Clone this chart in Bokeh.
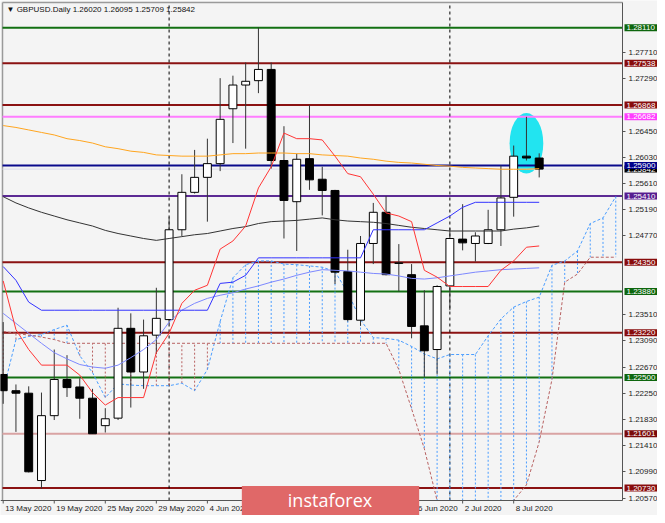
from bokeh.plotting import figure
from bokeh.models import Range1d, FixedTicker, NumeralTickFormatter, Label
from bokeh.embed import file_html
from bokeh.resources import INLINE

# ---------------- data ----------------
title_text = "\u25BC GBPUSD.Daily  1.26020 1.26095 1.25709 1.25842"

opens = [1.2255, 1.2229, 1.2225, 1.2085, 1.2189, 1.2247, 1.2235, 1.2217, 1.2173, 1.2185,
         1.2329, 1.2259, 1.2318, 1.2343, 1.2487, 1.2547, 1.2571, 1.2593, 1.2681, 1.2719,
         1.2726, 1.2744, 1.2598, 1.2532, 1.2601, 1.2568, 1.2550, 1.2420, 1.2342, 1.2465,
         1.2515, 1.2433, 1.2415, 1.2333, 1.2295, 1.2397, 1.2472, 1.2465, 1.2465, 1.2487,
         1.2539, 1.2605, 1.26020]
highs = [1.2339, 1.2239, 1.2236, 1.2226, 1.2295, 1.2286, 1.2249, 1.2232, 1.2201, 1.2362,
         1.2353, 1.2343, 1.2394, 1.2507, 1.2576, 1.2615, 1.2633, 1.2730, 1.2734, 1.2755,
         1.2811, 1.2755, 1.2653, 1.2609, 1.2687, 1.2588, 1.2551, 1.2455, 1.2477, 1.2530,
         1.2541, 1.2464, 1.2432, 1.2390, 1.2398, 1.2490, 1.2528, 1.2483, 1.2519, 1.2590,
         1.2622, 1.2668, 1.26095]
lows = [1.2208, 1.2163, 1.2098, 1.2072, 1.2182, 1.2219, 1.2184, 1.2160, 1.2162, 1.2182,
        1.2202, 1.2232, 1.2288, 1.2336, 1.2477, 1.2545, 1.2500, 1.2581, 1.2626, 1.2617,
        1.2706, 1.2585, 1.2473, 1.2453, 1.2551, 1.2510, 1.2400, 1.2340, 1.2333, 1.2432,
        1.2414, 1.2388, 1.2313, 1.2251, 1.2255, 1.2358, 1.2454, 1.2436, 1.2464, 1.2461,
        1.2508, 1.2598, 1.25709]
closes = [1.2229, 1.2225, 1.2099, 1.2189, 1.2247, 1.2234, 1.2217, 1.2160, 1.2184, 1.2329,
          1.2259, 1.2317, 1.2345, 1.2487, 1.2547, 1.2571, 1.2593, 1.2664, 1.2719, 1.2725,
          1.2744, 1.2598, 1.2534, 1.2600, 1.2567, 1.2550, 1.2419, 1.2343, 1.2465, 1.2515,
          1.2415, 1.2434, 1.2332, 1.2293, 1.2396, 1.2473, 1.2466, 1.2477, 1.2487, 1.2538,
          1.2605, 1.2602, 1.25842]

tenkan = [1.2405, 1.2327, 1.2295, 1.2270, 1.2270, 1.2270, 1.2254, 1.2226, 1.2206, 1.2218,
          1.2218, 1.2218, 1.2290, 1.2321, 1.2369, 1.2390, 1.2398, 1.2456, 1.2469, 1.2493,
          1.2554, 1.2588, 1.2642, 1.2633, 1.2633, 1.2631, 1.2605, 1.2577, 1.2572, 1.2544,
          1.2514, 1.2509, 1.2500, 1.2422, 1.2411, 1.2396, 1.2396, 1.2396, 1.2396, 1.2422,
          1.2437, 1.2459, 1.2461]
kijun = [1.2428, 1.2406, 1.2371, 1.2358, 1.2358, 1.2358, 1.2358, 1.2358, 1.2358, 1.2358,
         1.2358, 1.2358, 1.2358, 1.2358, 1.2358, 1.2358, 1.2358, 1.2401, 1.2403, 1.2414,
         1.2442, 1.2442, 1.2442, 1.2442, 1.2442, 1.2442, 1.2442, 1.2442, 1.2442, 1.2487,
         1.2487, 1.2487, 1.2487, 1.2487, 1.2498, 1.2509, 1.2523, 1.2531, 1.2531, 1.2531,
         1.2531, 1.2531, 1.2531]
ma_blue = [1.2353, 1.2337, 1.2321, 1.2305, 1.2290, 1.2280, 1.2271, 1.2267, 1.2265, 1.2270,
           1.2282, 1.2295, 1.2311, 1.2339, 1.2358, 1.2369, 1.2377, 1.2382, 1.2386, 1.2392,
           1.2397, 1.2403, 1.2408, 1.2414, 1.2419, 1.2423, 1.2422, 1.2421, 1.2419, 1.2417,
           1.2416, 1.2413, 1.2409, 1.2408, 1.2410, 1.2413, 1.2416, 1.2419, 1.2421, 1.2423,
           1.2424, 1.2425, 1.2426]
ma_black = [1.2540, 1.2530, 1.2522, 1.2515, 1.2509, 1.2503, 1.2498, 1.2493, 1.2486, 1.2481,
            1.2477, 1.2473, 1.2470, 1.2473, 1.2476, 1.2479, 1.2481, 1.2485, 1.2489, 1.2492,
            1.2497, 1.2500, 1.2501, 1.2502, 1.2504, 1.2506, 1.2503, 1.2501, 1.2500, 1.2499,
            1.2497, 1.2494, 1.2491, 1.2489, 1.2487, 1.2485, 1.2485, 1.2485, 1.2485, 1.2485,
            1.2488, 1.2490, 1.2493]
ma_orange = [1.2654, 1.2651, 1.2647, 1.2643, 1.2639, 1.2633, 1.2630, 1.2626, 1.2620, 1.2617,
             1.2613, 1.2611, 1.2607, 1.2606, 1.2605, 1.2605, 1.2605, 1.2607, 1.2609, 1.2609,
             1.2610, 1.2610, 1.2610, 1.2609, 1.2609, 1.2607, 1.2606, 1.2605, 1.2602, 1.2600,
             1.2597, 1.2595, 1.2594, 1.2592, 1.2590, 1.2589, 1.2587, 1.2586, 1.2585, 1.2584,
             1.2584, 1.2584, 1.2585]
span_a = [1.2229, 1.2311, 1.2316, 1.2319, 1.2327, 1.2334, 1.2285, 1.2258, 1.2218, 1.2240,
          1.2238, 1.2237, 1.2237, 1.2237, 1.2241, 1.2229, 1.2263, 1.2340, 1.2410, 1.2431,
          1.2437, 1.2437, 1.2432, 1.2431, 1.2429, 1.2427, 1.2420, 1.2386, 1.2343, 1.2314,
          1.2313, 1.2310, 1.2300, 1.2288, 1.2280, 1.2287, 1.2287, 1.2287, 1.2317, 1.2344,
          1.2363, 1.2372, 1.2379, 1.2430, 1.2437, 1.2453, 1.2497, 1.2506, 1.2540]
span_b = [1.2324, 1.2321, 1.2318, 1.2315, 1.2311, 1.2305, 1.2305, 1.2305, 1.2305, 1.2305,
          1.2305, 1.2305, 1.2305, 1.2305, 1.2305, 1.2305, 1.2305, 1.2305, 1.2305, 1.2305,
          1.2305, 1.2305, 1.2305, 1.2305, 1.2305, 1.2305, 1.2305, 1.2305, 1.2305, 1.2305,
          1.2305, 1.2263, 1.2200, 1.2136, 1.2040, 1.2000, 1.1990, 1.1990, 1.1995, 1.2030,
          1.2052, 1.2078, 1.2147, 1.2247, 1.2403, 1.2416, 1.2443, 1.2443, 1.2443]

date_ticks = [0, 4, 8, 12, 16, 20, 24, 28, 32, 36, 40]
date_labels = ["13 May 2020", "19 May 2020", "25 May 2020", "29 May 2020", "4 Jun 2020",
               "10 Jun 2020", "16 Jun 2020", "22 Jun 2020", "26 Jun 2020", "2 Jul 2020",
               "8 Jul 2020"]
price_ticks = [1.27710, 1.27290, 1.26450, 1.26030, 1.25610, 1.25190, 1.24770, 1.23510,
               1.23090, 1.22670, 1.22250, 1.21830, 1.21410, 1.20990, 1.20570]
month_starts = [13, 35]

level_prices = [1.28110, 1.27538, 1.26868, 1.26682, 1.25900, 1.25410, 1.24350, 1.23880,
                1.23220, 1.22500, 1.21601, 1.20730]
current_price = 1.25842

highlight_index = 41
highlight_top = 1.2674
highlight_bottom = 1.2577

# ---------------- styles / geometry ----------------
GREEN, DRED = "#127012", "#8b1212"
level_line_colors = [GREEN, DRED, DRED, "#ff7dff", "#0a0a8c", "#5c2a94", DRED, GREEN,
                     DRED, GREEN, "#d9a3a3", DRED]
level_box_colors = ["#0d660d", "#880c0c", "#880c0c", "#ff3cff", "#00008a", "#561d90",
                    "#880c0c", "#0d660d", "#880c0c", "#0d660d", "#7a0a0a", "#880c0c"]
BG = "#f4f4f4"
AXIS_C = "#555555"
FONT = "Liberation Sans"

CW, CH = 657, 515                 # canvas
CL, CR, CT, CB = 2, 622, 2, 500   # chart box inside the canvas (px)
X_LEFT, X_RIGHT = -0.054, 48.527  # data x at chart left / right edge
Y_TOP, Y_BOT = 1.28513, 1.20530   # data y at chart top / bottom edge
PXX = (CR - CL) / (X_RIGHT - X_LEFT)
PXY = (CB - CT) / (Y_TOP - Y_BOT)
x_start = X_LEFT - CL / PXX
x_end = X_RIGHT + (CW - CR) / PXX
y_end = Y_TOP + CT / PXY
y_start = Y_BOT - (CH - CB) / PXY

n = len(opens)
idx = list(range(n))
idx_span = list(range(len(span_a)))

p = figure(width=CW, height=CH,
           x_range=Range1d(x_start, x_end), y_range=Range1d(y_start, y_end),
           y_axis_location="right", output_backend="svg", toolbar_location=None,
           min_border_left=0, min_border_top=0, min_border_right=0, min_border_bottom=0,
           background_fill_color=BG, border_fill_color=BG, outline_line_color=None)
p.grid.visible = False

# chart border (left and top)
p.segment(x0=[X_LEFT, X_LEFT], y0=[Y_BOT, Y_TOP], x1=[X_LEFT, X_RIGHT], y1=[Y_TOP, Y_TOP],
          line_color="#9a9a9a", line_width=1.5)

# highlight ellipse
p.ellipse(x=[highlight_index], y=[(highlight_top + highlight_bottom) / 2],
          width=2.64, height=highlight_top - highlight_bottom,
          fill_color="#22e4f0", line_color=None)

# bid line and horizontal levels
p.segment(x0=[X_LEFT], x1=[X_RIGHT], y0=[current_price], y1=[current_price],
          line_color="#dcdcec", line_width=1)
p.segment(x0=[X_LEFT] * len(level_prices), x1=[X_RIGHT] * len(level_prices),
          y0=level_prices, y1=level_prices, line_color=level_line_colors, line_width=2)

# month separators
p.segment(x0=month_starts, x1=month_starts, y0=[Y_BOT] * len(month_starts),
          y1=[Y_TOP] * len(month_starts), line_color="#000000", line_width=1,
          line_dash="3 3")

# ichimoku cloud hatching
seg_colors = ["#4a9dff" if a >= b else "#b86262" for a, b in zip(span_a, span_b)]
span_b_clipped = [max(b, Y_BOT) for b in span_b]
span_a_clipped = [max(a, Y_BOT) for a in span_a]
p.segment(x0=idx_span, x1=idx_span, y0=span_a_clipped, y1=span_b_clipped,
          line_color=seg_colors, line_width=1, line_dash="2 2")
p.line(idx_span, span_a_clipped, line_color="#4a9dff", line_width=1, line_dash="3 2")
p.line(idx_span, span_b_clipped, line_color="#b86262", line_width=1, line_dash="3 2")

# candles
tops = [max(o, c) for o, c in zip(opens, closes)]
bots = [min(o, c) for o, c in zip(opens, closes)]
fills = ["#ffffff" if c >= o else "#000000" for o, c in zip(opens, closes)]
p.segment(x0=idx, x1=idx, y0=lows, y1=highs, line_color="#333333", line_width=1)
p.vbar(x=idx, width=0.62, top=tops, bottom=bots, fill_color=fills,
       line_color="#000000", line_width=1)

# indicator lines
p.line(idx, ma_orange, line_color="#ffa51f", line_width=1)
p.line(idx, ma_black, line_color="#333333", line_width=1)
p.line(idx, ma_blue, line_color="#7d88ff", line_width=1)
p.line(idx, kijun, line_color="#3333ff", line_width=1)
p.line(idx, tenkan, line_color="#ff3535", line_width=1)

# price scale (right)
ya = p.yaxis[0]
ya.fixed_location = X_RIGHT
ya.bounds = (Y_BOT, Y_TOP)
ya.ticker = FixedTicker(ticks=price_ticks)
ya.formatter = NumeralTickFormatter(format="0.00000")
ya.major_label_text_font = FONT
ya.major_label_text_font_size = "8px"
ya.major_label_text_color = "#222222"
ya.major_tick_out = 3
ya.major_tick_in = 0
ya.minor_tick_out = 0
ya.minor_tick_in = 0
ya.major_label_standoff = 3
ya.axis_line_color = AXIS_C
ya.major_tick_line_color = AXIS_C

# time scale (bottom): labels start at their bar, like the terminal draws them
CHAR_EM = {" ": 0.278, "M": 0.833, "a": 0.556, "y": 0.5, "J": 0.5, "u": 0.556,
           "n": 0.556, "l": 0.222}
def text_px(s, size=8.0):
    return sum(CHAR_EM.get(ch, 0.556) for ch in s) * size

label_pos = [t + (text_px(lab) / 2 + 2) / PXX for t, lab in zip(date_ticks, date_labels)]
xa = p.xaxis[0]
xa.fixed_location = Y_BOT
xa.bounds = (x_start, X_RIGHT)
xa.ticker = FixedTicker(ticks=label_pos)
xa.major_label_overrides = {pos: lab for pos, lab in zip(label_pos, date_labels)}
xa.major_label_text_font = FONT
xa.major_label_text_font_size = "8px"
xa.major_label_text_color = "#222222"
xa.major_tick_out = 0
xa.major_tick_in = 0
xa.minor_tick_out = 0
xa.minor_tick_in = 0
xa.major_label_standoff = 3
xa.axis_line_color = AXIS_C
# small tick marks at the bars
p.segment(x0=date_ticks, x1=date_ticks, y0=[Y_BOT] * len(date_ticks),
          y1=[Y_BOT - 3 / PXY] * len(date_ticks), line_color=AXIS_C, line_width=1)

# price boxes on the right scale
def price_box(price, col):
    return Label(x=X_RIGHT, y=price, x_offset=2, text=f"{price:.5f}", text_color="white",
                 text_font=FONT, text_font_size="8px", text_baseline="middle",
                 text_align="left", background_fill_color=col, padding=(2, 4, 1, 1))

p.add_layout(price_box(current_price, "#000000"))
for price, col in zip(level_prices, level_box_colors):
    p.add_layout(price_box(price, col))

# title
p.add_layout(Label(x=6, y=4, x_units="canvas", y_units="canvas", text=title_text,
                   text_font=FONT, text_font_size="8px", text_color="#111111",
                   text_baseline="top", text_align="left"))

# watermark
p.add_layout(Label(x=330, y=500, x_units="canvas", y_units="canvas", text="instaforex",
                   text_font="Open Sans", text_font_size="18px", text_color="white",
                   text_baseline="middle", text_align="center",
                   background_fill_color="#e06868", padding=(46, 47, 2, 3)))

open("out.html", "w").write(file_html(p, INLINE))
